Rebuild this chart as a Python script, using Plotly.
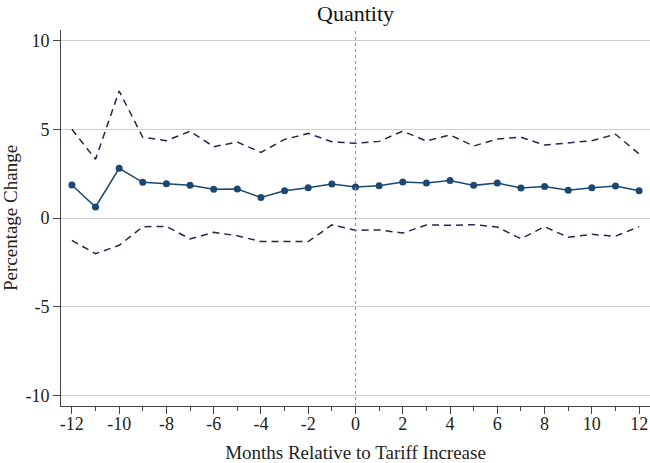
import plotly.graph_objects as go

months = list(range(-12, 13))
estimate = [1.86, 0.62, 2.80, 2.01, 1.93, 1.84, 1.62, 1.63, 1.16, 1.54, 1.71, 1.92,
            1.75, 1.82, 2.03, 1.97, 2.12, 1.84, 1.97, 1.69, 1.78, 1.56, 1.71, 1.80, 1.54]
upper = [5.00, 3.31, 7.16, 4.55, 4.36, 4.89, 4.02, 4.28, 3.70, 4.43, 4.77, 4.30,
         4.21, 4.32, 4.90, 4.34, 4.68, 4.06, 4.45, 4.56, 4.11, 4.23, 4.36, 4.72, 3.61]
lower = [-1.26, -2.01, -1.54, -0.49, -0.47, -1.18, -0.81, -1.00, -1.33, -1.33, -1.33, -0.39,
         -0.69, -0.67, -0.85, -0.39, -0.41, -0.38, -0.51, -1.17, -0.49, -1.09, -0.92, -1.03, -0.49]
x_ticks = [-12, -10, -8, -6, -4, -2, 0, 2, 4, 6, 8, 10, 12]
x_labels = ["-12", "-10", "-8", "-6", "-4", "-2", "0", "2", "4", "6", "8", "10", "12"]
y_ticks = [-10, -5, 0, 5, 10]
y_labels = ["-10", "-5", "0", "5", "10"]

FONT = "Liberation Serif"
ci_color = "#1f2a4e"
est_color = "#1a4870"

fig = go.Figure()
fig.add_trace(go.Scatter(x=months, y=upper, mode="lines",
                         line=dict(color=ci_color, width=1.5, dash="7px,5px"), showlegend=False))
fig.add_trace(go.Scatter(x=months, y=lower, mode="lines",
                         line=dict(color=ci_color, width=1.5, dash="7px,5px"), showlegend=False))
fig.add_trace(go.Scatter(x=months, y=estimate, mode="lines+markers",
                         line=dict(color=est_color, width=1.5),
                         marker=dict(color=est_color, size=7), showlegend=False))

fig.add_vline(x=0, line=dict(color="#999999", width=1.2, dash="3px,3px"))

fig.update_layout(
    width=650, height=463,
    margin=dict(l=61, r=0, t=30, b=57),
    paper_bgcolor="white", plot_bgcolor="white",
    font=dict(family=FONT, size=18, color="#222222"),
    title=dict(text="Quantity", x=0.547, xanchor="center", y=0.972, yanchor="middle",
               font=dict(family=FONT, size=22, color="#111111")),
    xaxis=dict(range=[-12.46, 12.46], tickvals=x_ticks, ticktext=x_labels,
               ticks="outside", ticklen=7, ticklabelstandoff=-6,
               tickcolor="#444444", showline=True, linecolor="#444444", linewidth=1,
               showgrid=False, zeroline=False,
               minor=dict(tickvals=[-11, -9, -7, -5, -3, -1, 1, 3, 5, 7, 9, 11],
                          ticks="outside", ticklen=4, tickcolor="#444444"),
               title=dict(text="Months Relative to Tariff Increase", standoff=15,
                          font=dict(family=FONT, size=19))),
    yaxis=dict(range=[-10.6, 10.6], tickvals=y_ticks, ticktext=y_labels,
               ticks="outside", ticklen=7,
               tickcolor="#444444", showline=True, linecolor="#444444", linewidth=1,
               showgrid=True, gridcolor="#cccccc", gridwidth=1, zeroline=False,
               title=dict(text="Percentage Change", standoff=8,
                          font=dict(family=FONT, size=19))),
)

fig.write_html("out.html", config={"displayModeBar": False})
with open("out.html", "r", encoding="utf-8") as f:
    html = f.read()
html = html.replace("<head>", "<head><style>html,body{margin:0;padding:0;overflow:hidden;}</style>", 1)
with open("out.html", "w", encoding="utf-8") as f:
    f.write(html)
